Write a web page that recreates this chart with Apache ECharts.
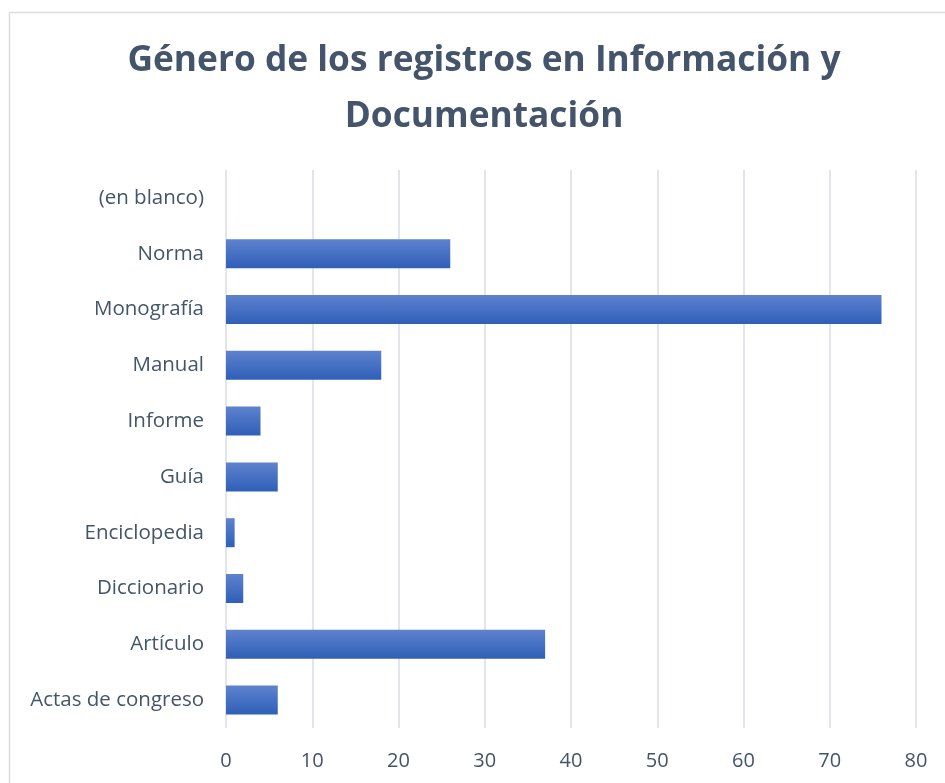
<!DOCTYPE html>
<html lang="es">
<head>
    <meta charset="UTF-8">
    <title>Género de los registros</title>
    <script src="https://cdn.jsdelivr.net/npm/echarts@6/dist/echarts.min.js"></script>
    <style>
        html, body { margin: 0; padding: 0; background: #fff; }
        #barChart { width: 945px; height: 783px; }
    </style>
</head>
<body>
<div id="barChart"></div>
<script>
    // datos (de abajo hacia arriba)
    const categories = ['Actas de congreso', 'Artículo', 'Diccionario', 'Enciclopedia', 'Guía',
        'Informe', 'Manual', 'Monografía', 'Norma', '(en blanco)'];
    const values = [6, 37, 2, 1, 6, 4, 18, 76, 26, 0];
    const xTicks = [0, 10, 20, 30, 40, 50, 60, 70, 80];

    let chart = echarts.init(document.getElementById('barChart'));

    let option = {
        animation: false,
        title: {
            text: 'Género de los registros en Información y\nDocumentación',
            left: 479,
            textAlign: 'center',
            top: 28,
            textStyle: {
                fontFamily: 'Open Sans',
                fontWeight: 'bold',
                fontSize: 35.3,
                lineHeight: 56,
                color: '#44546A'
            }
        },
        graphic: [{
            type: 'rect',
            shape: {x: 9.5, y: 12.5, width: 960, height: 800},
            style: {fill: 'none', stroke: '#D9DDE3', lineWidth: 1.5},
            silent: true
        }],
        grid: {left: 226, right: 29, top: 170, bottom: 55},
        xAxis: {
            type: 'value',
            min: xTicks[0],
            max: xTicks[xTicks.length - 1],
            interval: 10,
            axisLine: {show: false},
            axisTick: {show: false},
            splitLine: {lineStyle: {color: '#D9DEE6', width: 1.5}},
            axisLabel: {
                margin: 23,
                fontFamily: 'Open Sans',
                fontSize: 20,
                color: '#44546A'
            }
        },
        yAxis: {
            type: 'category',
            data: categories,
            axisLine: {show: false},
            axisTick: {show: false},
            axisLabel: {
                margin: 22,
                fontFamily: 'Open Sans',
                fontSize: 20.5,
                color: '#44546A'
            }
        },
        series: [{
            type: 'bar',
            data: values,
            barWidth: '52%',
            itemStyle: {
                color: new echarts.graphic.LinearGradient(0, 0, 0, 1, [
                    {offset: 0, color: '#5E82CE'},
                    {offset: 1, color: '#2F5FB8'}
                ])
            }
        }]
    };
    chart.setOption(option);
</script>
</body>
</html>
